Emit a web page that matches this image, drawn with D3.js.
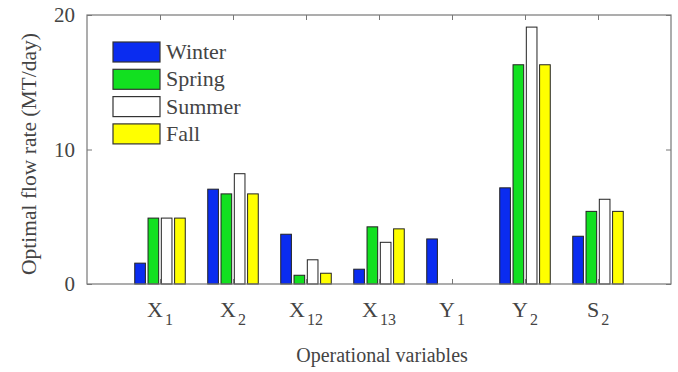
<!DOCTYPE html>
<html>
<head>
<meta charset="utf-8">
<script src="https://cdn.jsdelivr.net/npm/d3@7"></script>
<style>
  body { margin: 0; background: #fff; }
  text { font-family: "Liberation Serif", "Times New Roman", serif; fill: #444; }
</style>
</head>
<body>
<div id="chart"></div>
<script>
// data
var categories = ["X1", "X2", "X12", "X13", "Y1", "Y2", "S2"];
var catMain = ["X", "X", "X", "X", "Y", "Y", "S"];
var catSub = ["1", "2", "12", "13", "1", "2", "2"];
var seasons = ["Winter", "Spring", "Summer", "Fall"];
var winter = [1.55, 7.05, 3.7, 1.1, 3.35, 7.15, 3.55];
var spring = [4.9, 6.7, 0.65, 4.25, 0, 16.3, 5.4];
var summer = [4.9, 8.2, 1.8, 3.1, 0, 19.1, 6.3];
var fall = [4.9, 6.7, 0.8, 4.1, 0, 16.3, 5.4];
var yTicks = [0, 10, 20];

var series = [winter, spring, summer, fall];
var colors = ["#0a2cf0", "#12e020", "#ffffff", "#ffff00"];

var svgWidth = 678, svgHeight = 372;
var margin = { top: 15, right: 7, bottom: 88, left: 87 };
var width = svgWidth - margin.left - margin.right;
var height = svgHeight - margin.top - margin.bottom;

var svg = d3.select("#chart").append("svg")
  .attr("width", svgWidth)
  .attr("height", svgHeight);

var g = svg.append("g")
  .attr("transform", `translate(${margin.left}, ${margin.top})`);

// x in category units, like the original axis (0..8)
var x = d3.scaleLinear().domain([0, 8]).range([0, width]);
var y = d3.scaleLinear().domain([0, 20]).range([height, 0]);

var pitch = 0.182, barW = 0.146;

// bars
series.forEach(function(vals, si) {
  g.append("g").selectAll("rect")
    .data(vals).enter().append("rect")
    .attr("x", (d, i) => x(i + 1 + (si - 1.5) * pitch - barW / 2))
    .attr("width", x(barW) - x(0))
    .attr("y", d => y(d))
    .attr("height", d => y(0) - y(d))
    .attr("fill", colors[si])
    .attr("stroke", "#222")
    .attr("stroke-width", 1);
});

// box
g.append("rect")
  .attr("width", width).attr("height", height)
  .attr("fill", "none").attr("stroke", "#777").attr("stroke-width", 1.2);

// axes, ticks inward
var leftAxis = d3.axisLeft(y).tickValues(yTicks).tickSize(-5).tickPadding(12);
var rightAxis = d3.axisRight(y).tickValues(yTicks).tickSize(-5).tickFormat("");
var topAxis = d3.axisTop(x).tickValues(d3.range(1, 8)).tickSize(-5).tickFormat("");
var bottomAxis = d3.axisBottom(x).tickValues(d3.range(1, 8)).tickSize(-5).tickFormat("");

var gl = g.append("g").call(leftAxis);
g.append("g").attr("transform", `translate(${width},0)`).call(rightAxis);
g.append("g").call(topAxis);
g.append("g").attr("transform", `translate(0,${height})`).call(bottomAxis);

svg.selectAll(".domain").remove();
svg.selectAll(".tick line").attr("stroke", "#777");
gl.selectAll("text")
  .style("font-family", "Liberation Serif, serif")
  .style("font-size", "21px")
  .attr("fill", "#555");

// category labels with subscripts
var labs = g.append("g").selectAll("text")
  .data(categories).enter().append("text")
  .attr("x", (d, i) => x(i + 1))
  .attr("y", height + 33)
  .attr("text-anchor", "middle")
  .style("font-size", "22px")
  .attr("fill", "#555");
labs.append("tspan").text((d, i) => catMain[i]);
labs.append("tspan").attr("dx", 2).attr("dy", 8).style("font-size", "16px").text((d, i) => catSub[i]);

// axis titles
svg.append("text")
  .attr("x", margin.left + width / 2 + 3)
  .attr("y", 362)
  .attr("text-anchor", "middle")
  .style("font-size", "20px")
  .attr("fill", "#333")
  .text("Operational variables");

svg.append("text")
  .attr("transform", "translate(36,154) rotate(-90)")
  .attr("text-anchor", "middle")
  .style("font-size", "21.5px")
  .attr("fill", "#333")
  .text("Optimal flow rate (MT/day)");

// legend
var legend = svg.append("g").attr("transform", "translate(113,42)");
seasons.forEach(function(s, i) {
  legend.append("rect")
    .attr("x", 0).attr("y", i * 27.3)
    .attr("width", 47).attr("height", 20)
    .attr("fill", colors[i]).attr("stroke", "#333").attr("stroke-width", 1.2);
  legend.append("text")
    .attr("x", 53).attr("y", i * 27.3 + 17)
    .style("font-size", "22px")
    .attr("fill", "#222")
    .text(s);
});
</script>
</body>
</html>
